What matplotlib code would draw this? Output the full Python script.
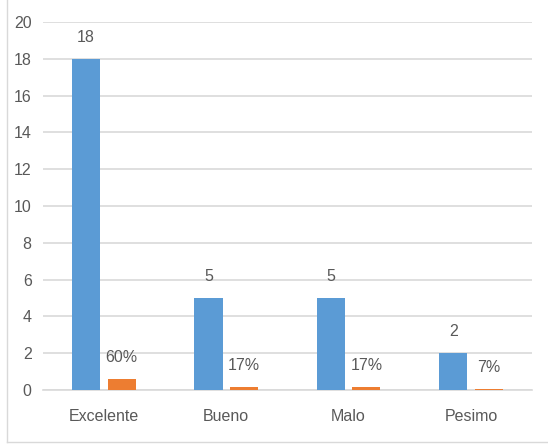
import matplotlib.pyplot as plt
import numpy as np

categorias = ['Excelente', 'Bueno', 'Malo', 'Pesimo']
cantidad = [18, 5, 5, 2]
porcentaje = [0.60, 0.17, 0.17, 0.07]

plt.rcParams['font.family'] = ['Liberation Sans', 'DejaVu Sans']

gris = '#595959'
fig = plt.figure(figsize=(5.48, 4.44), dpi=100)
ax = fig.add_axes([0.078, 0.122, 0.893, 0.828])

x = np.arange(len(categorias))
ancho = 0.23
desp = 0.145
b1 = ax.bar(x - desp, cantidad, width=ancho, color='#5b9bd5', zorder=3)
b2 = ax.bar(x + desp, porcentaje, width=ancho, color='#ed7d31', zorder=3)

for barra, v in zip(b1, cantidad):
    ax.annotate(str(v), (barra.get_x() + barra.get_width() / 2, v),
                xytext=(0, 10), textcoords='offset points',
                ha='center', va='bottom', fontsize=11.5, color=gris)
for barra, v in zip(b2, porcentaje):
    ax.annotate(f'{v:.0%}', (barra.get_x() + barra.get_width() / 2, v),
                xytext=(0, 10), textcoords='offset points',
                ha='center', va='bottom', fontsize=11.5, color=gris)

ax.set_xlim(-0.5, len(categorias) - 0.5)
ax.set_ylim(0, 20)
ax.set_yticks(range(0, 21, 2))
ax.set_xticks(x)
ax.set_xticklabels(categorias)
ax.tick_params(axis='both', length=0, labelsize=11.5, colors=gris)
ax.tick_params(axis='x', pad=14)
ax.tick_params(axis='y', pad=8)
ax.grid(axis='y', color='#d9d9d9', linewidth=1.2, zorder=0)
for lado in ['top', 'right', 'left']:
    ax.spines[lado].set_visible(False)
ax.spines['bottom'].set_color('#d9d9d9')
ax.spines['bottom'].set_linewidth(1.2)

# marco del grafico
fig.add_artist(plt.Line2D([0.013, 0.013], [0.005, 1.0], color='#d9d9d9', lw=1))
fig.add_artist(plt.Line2D([0.013, 1.0], [0.005, 0.005], color='#d9d9d9', lw=1))

fig.savefig('out.png', dpi=100)
